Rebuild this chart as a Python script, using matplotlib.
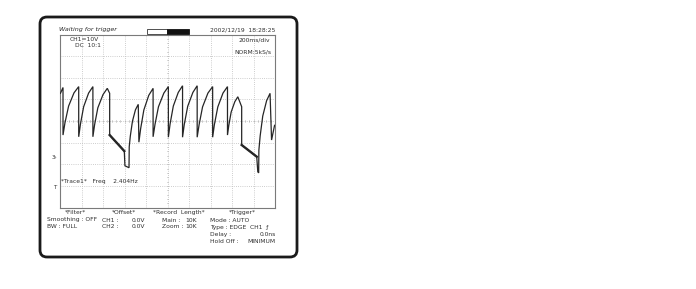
import numpy as np
import matplotlib
matplotlib.use("Agg")
import matplotlib.pyplot as plt
from matplotlib.patches import FancyBboxPatch, Rectangle

# trace, in divisions (x: 0..10, y: -4..4)
trace_x = [0.02, 0.14, 0.14, 0.23, 0.40, 0.65, 0.87,
           0.87, 0.95, 1.10, 1.33, 1.53,
           1.53, 1.61, 1.76, 2.00, 2.20,
           2.31, 2.31, 2.99, 3.02, 3.21, 3.22,
           3.27, 3.37, 3.51, 3.64,
           3.67, 3.75, 3.90, 4.13, 4.33,
           4.33, 4.42, 4.58, 4.83, 5.04,
           5.04, 5.12, 5.27, 5.50, 5.70,
           5.70, 5.78, 5.94, 6.18, 6.38,
           6.38, 6.47, 6.63, 6.88, 7.10,
           7.10, 7.18, 7.34, 7.58, 7.79,
           7.79, 7.85, 7.96, 8.13, 8.27,
           8.45, 8.45, 9.15, 9.20, 9.24, 9.25,
           9.31, 9.43, 9.61, 9.77,
           9.84, 9.98]
trace_y = [1.28, 1.55, -0.65, -0.09, 0.69, 1.30, 1.59,
           -0.73, -0.15, 0.66, 1.29, 1.59,
           -0.73, -0.17, 0.61, 1.22, 1.51,
           1.28, -0.65, -1.39, -2.07, -2.16, -1.19,
           -0.70, -0.01, 0.52, 0.77,
           -0.98, -0.36, 0.51, 1.19, 1.51,
           -0.73, -0.15, 0.66, 1.29, 1.59,
           -0.75, -0.14, 0.69, 1.32, 1.63,
           -0.75, -0.16, 0.68, 1.32, 1.63,
           -0.75, -0.17, 0.65, 1.29, 1.59,
           -0.75, -0.17, 0.65, 1.29, 1.59,
           -0.65, -0.21, 0.41, 0.89, 1.12,
           0.66, -1.11, -1.65, -2.35, -2.40, -1.35,
           -0.69, 0.23, 0.94, 1.28,
           -0.88, -0.20]

# the two slow ramps look heavier on screen
ramp1_x = [2.31, 2.99]
ramp1_y = [-0.65, -1.39]
ramp2_x = [8.45, 9.15]
ramp2_y = [-1.11, -1.65]

header_left = ["CH1=10V", "DC  10:1"]
header_right = ["200ms/div", "NORM:5kS/s"]
timestamp = "2002/12/19  18:28:25"
status = "Waiting for trigger"
trace_info = "*Trace1*   Freq    2.404Hz"

W, H = 696, 289
fig = plt.figure(figsize=(W / 100, H / 100), dpi=100)

# scope screen axes (pixel box 60..275 x 34.5..207.5)
sx0, sx1, sy0, sy1 = 60, 275, 34.5, 207.5
ax = fig.add_axes([sx0 / W, 1 - sy1 / H, (sx1 - sx0) / W, (sy1 - sy0) / H])
ax.set_xlim(0, 10)
ax.set_ylim(-4, 4)
ax.set_xticks([])
ax.set_yticks([])
for s in ax.spines.values():
    s.set_color("#7a7a7a")
    s.set_linewidth(0.8)

grid_kw = dict(color="#bdbdbd", lw=0.6, linestyle=(0, (1, 1.6)), zorder=1)
for gx in range(1, 10):
    ax.axvline(gx, **grid_kw)
for gy in range(-3, 4):
    ax.axhline(gy, **grid_kw)

# small ticks on the centre cross
for t in np.arange(0.2, 10, 0.2):
    ax.plot([t, t], [-0.05, 0.05], color="#aaaaaa", lw=0.4, zorder=1)
for t in np.arange(-3.8, 4, 0.2):
    ax.plot([4.97, 5.03], [t, t], color="#aaaaaa", lw=0.4, zorder=1)

ax.plot(trace_x, trace_y, color="#262626", lw=0.9, zorder=3,
        solid_joinstyle="miter")
ax.plot(ramp1_x, ramp1_y, color="#262626", lw=1.7, zorder=3)
ax.plot(ramp2_x, ramp2_y, color="#262626", lw=1.7, zorder=3)

# overlay in pixel coordinates for frame and labels
ov = fig.add_axes([0, 0, 1, 1], zorder=5)
ov.set_xlim(0, W)
ov.set_ylim(H, 0)
ov.axis("off")
ov.patch.set_alpha(0)

ov.add_patch(FancyBboxPatch((40, 17), 257, 240,
                            boxstyle="round,pad=0,rounding_size=7",
                            fc="none", ec="#1a1a1a", lw=2.0))

tc = "#2e2e2e"
fs = 4.3
ov.text(59, 31, status, fontsize=4.6, style="italic", color=tc, va="baseline")
ov.add_patch(Rectangle((147, 29), 20, 5, fc="white", ec="#333333", lw=0.6))
ov.add_patch(Rectangle((167, 29), 22, 5, fc="#111111", ec="#111111", lw=0.6))
ov.text(275, 31, timestamp, fontsize=fs, color=tc, ha="right", va="baseline")

ov.text(70, 41, header_left[0], fontsize=fs, color=tc, va="baseline")
ov.text(75, 47, header_left[1], fontsize=fs, color=tc, va="baseline")
ov.text(270, 41, header_right[0], fontsize=fs, color=tc, ha="right", va="baseline")
ov.text(271, 54, header_right[1], fontsize=fs, color=tc, ha="right", va="baseline")

ov.text(61, 183, trace_info, fontsize=fs, color=tc, va="baseline")
ov.text(52, 159, "3\u203a", fontsize=4.0, color=tc, va="baseline")
ov.text(53, 189, "T", fontsize=4.0, color=tc, va="baseline")

# settings panel under the screen
rows = [214, 221.5, 228.5, 236, 243]
ov.text(75, rows[0], "*Filter*", fontsize=fs, color=tc, ha="center", va="baseline")
ov.text(47, rows[1], "Smoothing : OFF", fontsize=fs, color=tc, va="baseline")
ov.text(47, rows[2], "BW : FULL", fontsize=fs, color=tc, va="baseline")

ov.text(124, rows[0], "*Offset*", fontsize=fs, color=tc, ha="center", va="baseline")
ov.text(102, rows[1], "CH1 :", fontsize=fs, color=tc, va="baseline")
ov.text(145, rows[1], "0.0V", fontsize=fs, color=tc, ha="right", va="baseline")
ov.text(102, rows[2], "CH2 :", fontsize=fs, color=tc, va="baseline")
ov.text(145, rows[2], "0.0V", fontsize=fs, color=tc, ha="right", va="baseline")

ov.text(179, rows[0], "*Record  Length*", fontsize=fs, color=tc, ha="center", va="baseline")
ov.text(162, rows[1], "Main :", fontsize=fs, color=tc, va="baseline")
ov.text(197, rows[1], "10K", fontsize=fs, color=tc, ha="right", va="baseline")
ov.text(162, rows[2], "Zoom :", fontsize=fs, color=tc, va="baseline")
ov.text(197, rows[2], "10K", fontsize=fs, color=tc, ha="right", va="baseline")

ov.text(242, rows[0], "*Trigger*", fontsize=fs, color=tc, ha="center", va="baseline")
ov.text(210, rows[1], "Mode : AUTO", fontsize=fs, color=tc, va="baseline")
ov.text(210, rows[2], "Type : EDGE  CH1  \u0192", fontsize=fs, color=tc, va="baseline")
ov.text(210, rows[3], "Delay :", fontsize=fs, color=tc, va="baseline")
ov.text(276, rows[3], "0.0ns", fontsize=fs, color=tc, ha="right", va="baseline")
ov.text(210, rows[4], "Hold Off :", fontsize=fs, color=tc, va="baseline")
ov.text(276, rows[4], "MINIMUM", fontsize=fs, color=tc, ha="right", va="baseline")

fig.savefig("out.png", dpi=100)
